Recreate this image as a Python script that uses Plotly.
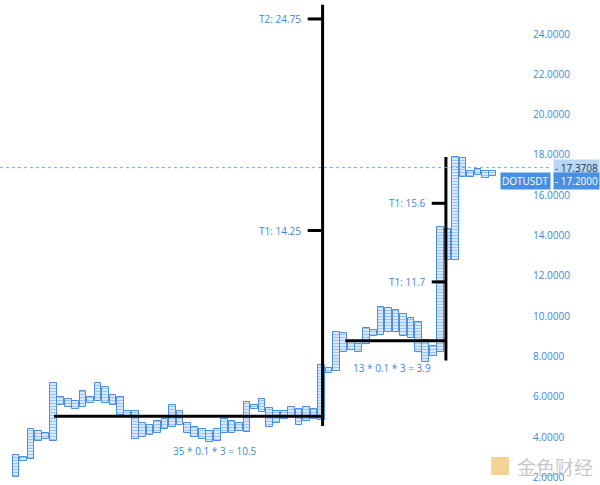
import plotly.graph_objects as go

# ---- data (point & figure columns, box 0.1, reversal 3) ----
col_low = [2.0, 2.8, 2.9, 3.8, 3.9, 3.8, 5.6, 5.5, 5.4, 5.5, 5.7, 5.8, 5.7, 5.6, 5.1, 5.0,
           3.9, 4.0, 4.1, 4.2, 4.4, 4.5, 4.6, 4.2, 4.0, 3.9, 3.75, 3.8, 4.2, 4.2, 4.3, 4.25,
           5.4, 5.25, 4.5, 4.7, 4.9, 5.0, 4.6, 4.8, 4.9, 4.85, 7.2, 7.3, 8.2, 8.3, 8.2, 8.6,
           9.0, 9.05, 9.2, 9.2, 9.0, 8.9, 8.2, 7.7, 8.0, 8.2, 12.8, 12.8, 16.9, 16.9, 17.0,
           16.85, 16.95]
col_high = [3.1, 3.0, 4.4, 4.3, 4.2, 6.7, 6.0, 5.9, 5.8, 6.3, 6.0, 6.7, 6.5, 6.1, 6.0, 5.3,
            5.3, 4.7, 4.6, 4.8, 4.9, 5.6, 5.3, 4.7, 4.5, 4.4, 4.3, 4.4, 4.9, 4.8, 4.7, 5.75,
            5.6, 5.9, 5.45, 5.3, 5.3, 5.5, 5.4, 5.5, 5.4, 7.6, 7.45, 9.2, 9.15, 8.7, 8.6, 9.4,
            9.3, 10.45, 10.4, 10.3, 10.1, 9.9, 9.7, 8.8, 8.5, 14.4, 14.35, 17.9, 17.85, 17.2,
            17.3, 17.2, 17.2]
col_index = list(range(1, len(col_low) + 1))

box_size = 0.1
reversal = 3
count_a = 35
base_a = 3.75
t1_a = 14.25
t2_a = 24.75
count_b = 13
base_b = 7.8
t1_b = 11.7
t2_b = 15.6
last_price = 17.3708
close_price = 17.2
symbol = "DOTUSDT"
y_ticks = [2, 4, 6, 8, 10, 12, 14, 16, 18, 20, 22, 24]

BLUE = "#4a90e2"
TXT = "#3f87d8"

fig = go.Figure()
fig.add_trace(go.Bar(
    x=col_index,
    y=[h - l for h, l in zip(col_high, col_low)],
    base=col_low,
    width=0.9,
    marker=dict(color="white",
                line=dict(color=BLUE, width=1),
                pattern=dict(shape="-", fgcolor=BLUE, bgcolor="#eef5fd", size=3, solidity=0.5)),
    showlegend=False,
))

line_style = dict(color="black", width=3)
shapes = []
# count A
xa = 42.15
shapes.append(dict(type="line", x0=6.1, x1=xa, y0=5.03, y1=5.03, line=line_style))
shapes.append(dict(type="line", x0=xa, x1=xa, y0=4.55, y1=25.45, line=line_style))
for t in (t1_a, t2_a):
    shapes.append(dict(type="line", x0=xa - 2.0, x1=xa, y0=t, y1=t, line=line_style))
# count B
xb = 58.7
shapes.append(dict(type="line", x0=45.2, x1=xb, y0=8.78, y1=8.78, line=line_style))
shapes.append(dict(type="line", x0=xb, x1=xb, y0=base_b, y1=17.9, line=line_style))
for t in (t1_b, t2_b):
    shapes.append(dict(type="line", x0=xb - 1.9, x1=xb, y0=t, y1=t, line=line_style))
# last price dotted line
shapes.append(dict(type="line", xref="paper", x0=0, x1=1.04, y0=last_price, y1=last_price,
                   line=dict(color="#6fa8e6", width=1, dash="dot")))
# watermark logo
shapes.append(dict(type="rect", xref="paper", yref="paper", x0=491/528, x1=509/528,
                   y0=(485-475)/485, y1=(485-457)/485, line=dict(width=0),
                   fillcolor="rgba(232,178,60,0.55)"))
fig.update_layout(shapes=shapes)

ann = []
f = dict(family="Open Sans, sans-serif", size=10, color=TXT)
ann.append(dict(x=xa - 2.6, y=t2_a, text=f"T2: {t2_a}", showarrow=False, xanchor="right", font=f))
ann.append(dict(x=xa - 2.6, y=t1_a, text=f"T1: {t1_a}", showarrow=False, xanchor="right", font=f))
ann.append(dict(x=xb - 2.4, y=t2_b, text=f"T1: {t2_b}", showarrow=False, xanchor="right", font=f))
ann.append(dict(x=xb - 2.4, y=t1_b, text=f"T1: {t1_b}", showarrow=False, xanchor="right", font=f))
ann.append(dict(x=27.7, y=3.3, showarrow=False, font=f,
                text=f"{count_a} * {box_size} * {reversal} = {round(count_a*box_size*reversal, 2)}"))
ann.append(dict(x=51.5, y=7.42, showarrow=False, font=f,
                text=f"{count_b} * {box_size} * {reversal} = {round(count_b*box_size*reversal, 2)}"))
# price labels
ann.append(dict(xref="paper", x=553/528, xanchor="left", y=last_price, yanchor="middle",
                text=f"- {last_price:.4f}", showarrow=False, bgcolor="#b9d7f5",
                font=dict(family="Open Sans, sans-serif", size=10, color="#1d3557"), borderpad=1))
ann.append(dict(xref="paper", x=553/528, xanchor="left", y=close_price, yanchor="middle", yshift=-10,
                text=f"- {close_price:.4f}", showarrow=False, bgcolor=BLUE,
                font=dict(family="Open Sans, sans-serif", size=10, color="white"), borderpad=1))
ann.append(dict(xref="paper", x=551/528, xanchor="right", y=close_price, yanchor="middle", yshift=-10,
                text=symbol, showarrow=False, bgcolor=BLUE,
                font=dict(family="Open Sans, sans-serif", size=10, color="white"), borderpad=1))
# watermark
ann.append(dict(xref="paper", yref="paper", x=555/528, xanchor="center", y=(485-466)/485,
                yanchor="middle", text="金色财经", showarrow=False,
                font=dict(family="Noto Sans CJK SC", size=19, color="rgba(150,150,150,0.55)")))
fig.update_layout(annotations=ann)

fig.update_layout(
    width=600, height=485,
    margin=dict(l=0, r=72, t=0, b=0),
    plot_bgcolor="white", paper_bgcolor="white",
    bargap=0,
    xaxis=dict(range=[-1.148, 69.72], visible=False, showgrid=False, zeroline=False),
    yaxis=dict(range=[1.62, 25.69], side="right", tickvals=y_ticks,
               ticktext=[f"{v:.4f}" for v in y_ticks], showgrid=False, zeroline=False,
               ticks="", ticklabelstandoff=4,
               tickfont=dict(family="Open Sans, sans-serif", size=10, color=TXT)),
)

fig.write_html("out.html", config={"displayModeBar": False},
               post_script="document.body.style.margin='0';document.body.style.overflow='hidden';")
